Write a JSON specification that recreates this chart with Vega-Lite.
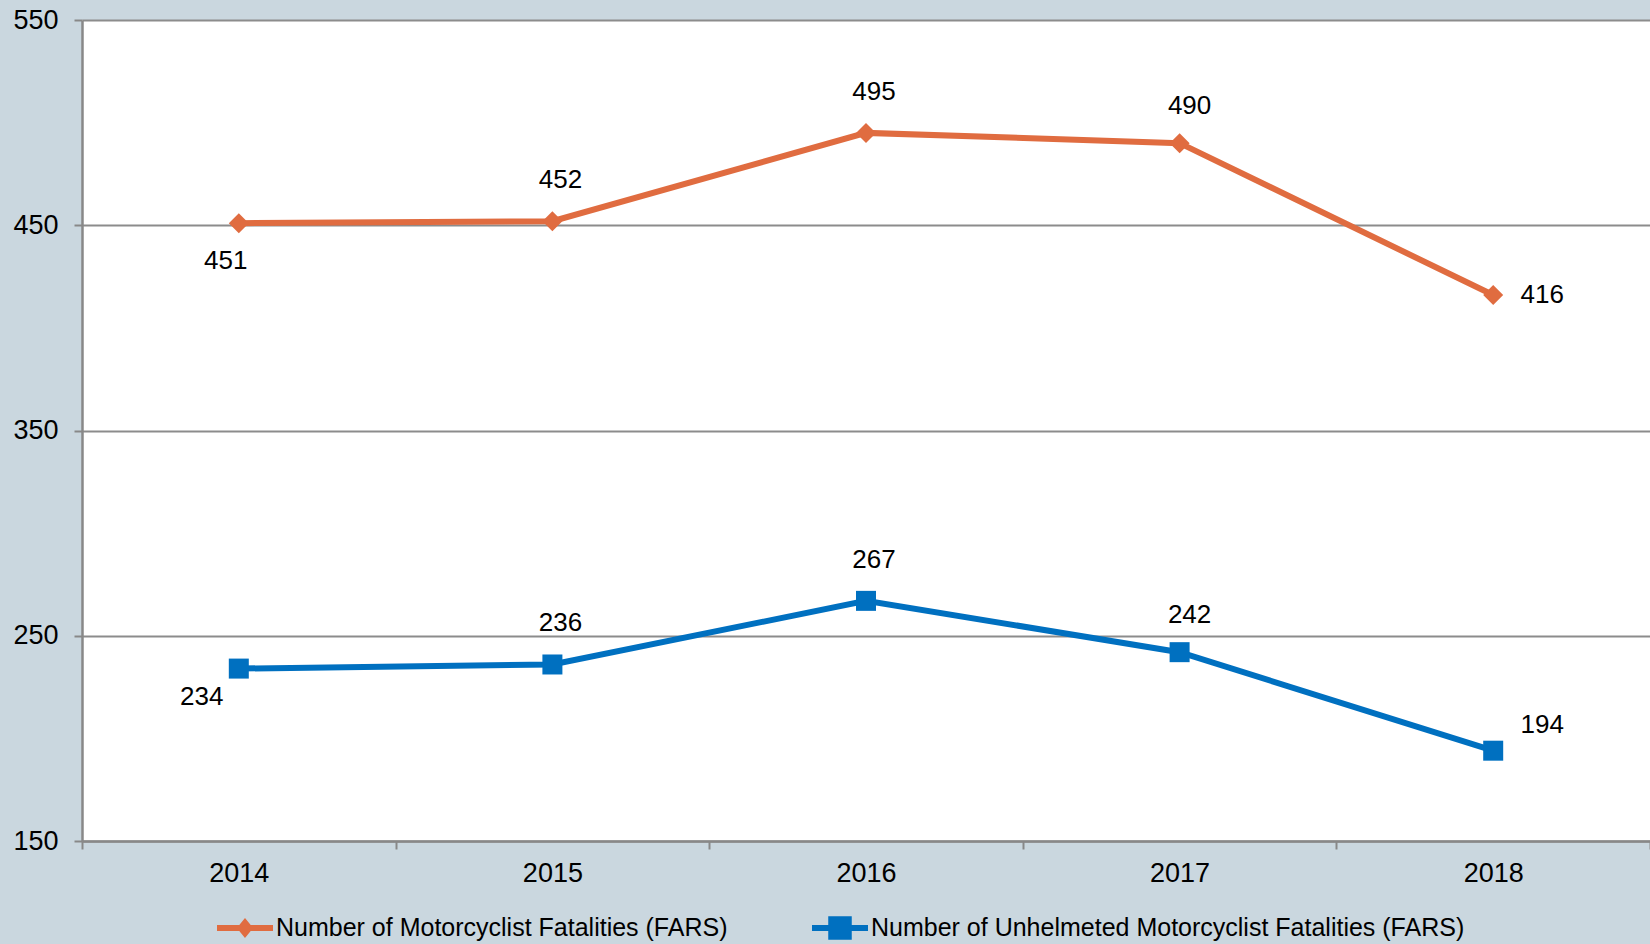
{
  "$schema": "https://vega.github.io/schema/vega-lite/v6.json",
  "width": 1568,
  "height": 821,
  "autosize": {"type": "none"},
  "padding": {"left": 82, "top": 20, "right": 0, "bottom": 103},
  "background": "#cad7df",
  "config": {
    "view": {"fill": "#ffffff", "stroke": null},
    "font": "Liberation Sans"
  },
  "data": {
    "values": [
      {"year": "2014", "series": "Number of Motorcyclist Fatalities (FARS)", "value": 451},
      {"year": "2015", "series": "Number of Motorcyclist Fatalities (FARS)", "value": 452},
      {"year": "2016", "series": "Number of Motorcyclist Fatalities (FARS)", "value": 495},
      {"year": "2017", "series": "Number of Motorcyclist Fatalities (FARS)", "value": 490},
      {"year": "2018", "series": "Number of Motorcyclist Fatalities (FARS)", "value": 416},
      {"year": "2014", "series": "Number of Unhelmeted Motorcyclist Fatalities (FARS)", "value": 234},
      {"year": "2015", "series": "Number of Unhelmeted Motorcyclist Fatalities (FARS)", "value": 236},
      {"year": "2016", "series": "Number of Unhelmeted Motorcyclist Fatalities (FARS)", "value": 267},
      {"year": "2017", "series": "Number of Unhelmeted Motorcyclist Fatalities (FARS)", "value": 242},
      {"year": "2018", "series": "Number of Unhelmeted Motorcyclist Fatalities (FARS)", "value": 194}
    ]
  },
  "encoding": {
    "x": {
      "field": "year",
      "type": "ordinal",
      "scale": {"type": "band", "paddingInner": 0, "paddingOuter": 0},
      "axis": {
        "title": null,
        "labelAngle": 0,
        "labelFontSize": 27,
        "labelColor": "#000000",
        "labelPadding": 11,
        "tickBand": "extent",
        "tickSize": 8,
        "tickColor": "#888888",
        "tickWidth": 2,
        "domainColor": "#888888",
        "domainWidth": 2.5,
        "grid": false
      }
    },
    "y": {
      "field": "value",
      "type": "quantitative",
      "scale": {"domain": [150, 550], "nice": false, "zero": false},
      "axis": {
        "title": null,
        "values": [150, 250, 350, 450, 550],
        "labelFontSize": 27,
        "labelColor": "#000000",
        "labelPadding": 16,
        "tickSize": 8,
        "tickColor": "#888888",
        "tickWidth": 2,
        "domainColor": "#888888",
        "domainWidth": 2.5,
        "grid": true,
        "gridColor": "#8c8c8c",
        "gridWidth": 2
      }
    }
  },
  "layer": [
    {
      "mark": {"type": "line", "strokeWidth": 6},
      "encoding": {
        "color": {
          "field": "series",
          "type": "nominal",
          "scale": {
            "domain": ["Number of Motorcyclist Fatalities (FARS)", "Number of Unhelmeted Motorcyclist Fatalities (FARS)"],
            "range": ["#e06c40", "#0070c0"]
          },
          "legend": {
            "title": null,
            "orient": "none",
            "direction": "horizontal",
            "legendX": 135,
            "legendY": 880,
            "columnPadding": 84,
            "labelFontSize": 25,
            "labelColor": "#000000",
            "labelOffset": 3,
            "symbolSize": 3136,
            "symbolType": "M-1,-0.107L1,-0.107L1,0.107L-1,0.107Z",
            "labelLimit": 800,
            "encode": {
              "symbols": {
                "update": {
                  "shape": {"signal": "datum.value === 'Number of Motorcyclist Fatalities (FARS)' ? 'M-1,-0.107L-0.204,-0.107L0,-0.36L0.204,-0.107L1,-0.107L1,0.107L0.204,0.107L0,0.36L-0.204,0.107L-1,0.107Z' : 'M-1,-0.107L-0.42,-0.107L-0.42,-0.42L0.42,-0.42L0.42,-0.107L1,-0.107L1,0.107L0.42,0.107L0.42,0.42L-0.42,0.42L-0.42,0.107L-1,0.107Z'"},
                  "fill": {"signal": "datum.value === 'Number of Motorcyclist Fatalities (FARS)' ? '#e06c40' : '#0070c0'"},
                  "fillOpacity": {"value": 1},
                  "stroke": {"value": "transparent"},
                  "strokeWidth": {"value": 0}
                }
              }
            }
          }
        }
      }
    },
    {
      "transform": [{"filter": "datum.series == 'Number of Motorcyclist Fatalities (FARS)'"}],
      "mark": {"type": "point", "filled": true, "size": 400, "opacity": 1, "shape": "diamond", "color": "#e06c40"}
    },
    {
      "transform": [{"filter": "datum.series == 'Number of Unhelmeted Motorcyclist Fatalities (FARS)'"}],
      "mark": {"type": "point", "filled": true, "size": 400, "opacity": 1, "shape": "square", "color": "#0070c0"}
    },
    {
      "transform": [{"filter": "datum.year == '2015' || datum.year == '2016'"}],
      "mark": {"type": "text", "fontSize": 26, "color": "#000000", "dx": 8, "dy": -41, "baseline": "middle"},
      "encoding": {"text": {"field": "value", "type": "quantitative"}}
    },
    {
      "transform": [{"filter": "datum.year == '2017'"}],
      "mark": {"type": "text", "fontSize": 26, "color": "#000000", "dx": 10, "dy": -37, "baseline": "middle"},
      "encoding": {"text": {"field": "value", "type": "quantitative"}}
    },
    {
      "transform": [{"filter": "datum.year == '2014' && datum.value > 350"}],
      "mark": {"type": "text", "fontSize": 26, "color": "#000000", "dx": -13, "dy": 38, "baseline": "middle"},
      "encoding": {"text": {"field": "value", "type": "quantitative"}}
    },
    {
      "transform": [{"filter": "datum.year == '2014' && datum.value < 350"}],
      "mark": {"type": "text", "fontSize": 26, "color": "#000000", "dx": -37, "dy": 28, "baseline": "middle"},
      "encoding": {"text": {"field": "value", "type": "quantitative"}}
    },
    {
      "transform": [{"filter": "datum.year == '2018' && datum.value > 350"}],
      "mark": {"type": "text", "fontSize": 26, "color": "#000000", "dx": 49, "dy": 0, "baseline": "middle"},
      "encoding": {"text": {"field": "value", "type": "quantitative"}}
    },
    {
      "transform": [{"filter": "datum.year == '2018' && datum.value < 350"}],
      "mark": {"type": "text", "fontSize": 26, "color": "#000000", "dx": 49, "dy": -26, "baseline": "middle"},
      "encoding": {"text": {"field": "value", "type": "quantitative"}}
    }
  ]
}
